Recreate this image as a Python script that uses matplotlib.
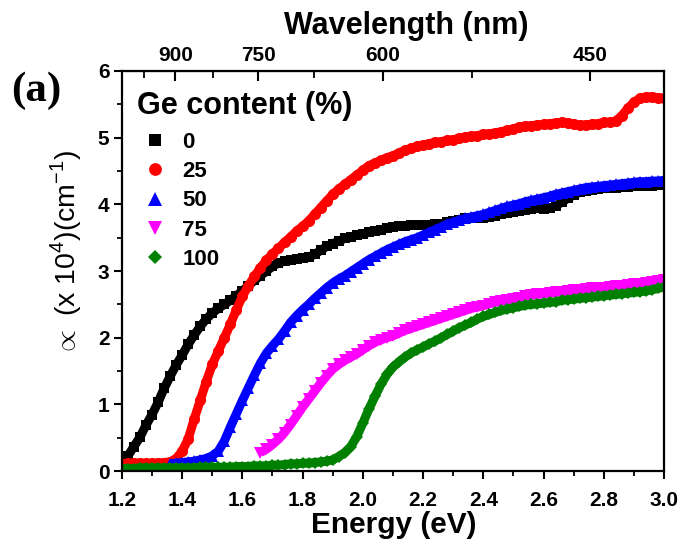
import numpy as np
import matplotlib
matplotlib.use("Agg")
import matplotlib.pyplot as plt
from matplotlib.ticker import MultipleLocator, FixedLocator

plt.rcParams["font.family"] = ["Liberation Sans", "DejaVu Sans"]
plt.rcParams["mathtext.fontset"] = "custom"
plt.rcParams["mathtext.rm"] = "Liberation Sans"
plt.rcParams["mathtext.bf"] = "Liberation Sans:bold"

# photon energy (eV), common sampling of all curves
energy = [
    1.20, 1.22, 1.24, 1.26, 1.28, 1.30, 1.32, 1.34, 1.36, 1.38,
    1.40, 1.42, 1.44, 1.46, 1.48, 1.50, 1.52, 1.54, 1.56, 1.58,
    1.60, 1.62, 1.64, 1.66, 1.68, 1.70, 1.72, 1.74, 1.76, 1.78,
    1.80, 1.82, 1.84, 1.86, 1.88, 1.90, 1.92, 1.94, 1.96, 1.98,
    2.00, 2.02, 2.04, 2.06, 2.08, 2.10, 2.12, 2.14, 2.16, 2.18,
    2.20, 2.22, 2.24, 2.26, 2.28, 2.30, 2.32, 2.34, 2.36, 2.38,
    2.40, 2.42, 2.44, 2.46, 2.48, 2.50, 2.52, 2.54, 2.56, 2.58,
    2.60, 2.62, 2.64, 2.66, 2.68, 2.70, 2.72, 2.74, 2.76, 2.78,
    2.80, 2.82, 2.84, 2.86, 2.88, 2.90, 2.92, 2.94, 2.96, 2.98,
    3.00,
]

nan = np.nan

# absorption coefficient (x 10^4 cm^-1) for each Ge content
alpha_0 = [
    0.12, 0.23, 0.37, 0.51, 0.69, 0.85, 1.03, 1.24, 1.42, 1.59,
    1.74, 1.90, 2.04, 2.17, 2.28, 2.37, 2.44, 2.50, 2.56, 2.63,
    2.70, 2.78, 2.86, 2.93, 3.00, 3.07, 3.12, 3.15, 3.16, 3.18,
    3.19, 3.21, 3.25, 3.31, 3.37, 3.41, 3.45, 3.49, 3.51, 3.54,
    3.56, 3.58, 3.60, 3.62, 3.64, 3.66, 3.67, 3.68, 3.69, 3.69,
    3.69, 3.69, 3.70, 3.71, 3.73, 3.75, 3.77, 3.79, 3.80, 3.80,
    3.80, 3.81, 3.83, 3.85, 3.87, 3.88, 3.90, 3.91, 3.93, 3.94,
    3.93, 3.94, 3.98, 4.03, 4.09, 4.14, 4.18, 4.20, 4.22, 4.23,
    4.24, 4.25, 4.25, 4.26, 4.26, 4.27, 4.27, 4.28, 4.28, 4.29,
    4.30,
]
alpha_25 = [
    0.11, 0.12, 0.12, 0.12, 0.12, 0.12, 0.12, 0.13, 0.14, 0.19,
    0.30, 0.48, 0.78, 1.06, 1.34, 1.60, 1.80, 2.00, 2.20, 2.42,
    2.62, 2.78, 2.92, 3.05, 3.16, 3.26, 3.34, 3.43, 3.51, 3.60,
    3.67, 3.75, 3.85, 3.95, 4.05, 4.15, 4.23, 4.30, 4.37, 4.44,
    4.51, 4.58, 4.62, 4.66, 4.70, 4.73, 4.77, 4.81, 4.84, 4.87,
    4.89, 4.91, 4.93, 4.94, 4.96, 4.97, 4.99, 5.01, 5.02, 5.03,
    5.05, 5.06, 5.07, 5.09, 5.11, 5.13, 5.16, 5.17, 5.18, 5.19,
    5.20, 5.21, 5.22, 5.23, 5.22, 5.20, 5.19, 5.19, 5.20, 5.21,
    5.23, 5.23, 5.25, 5.33, 5.44, 5.53, 5.59, 5.61, 5.61, 5.60,
    5.59,
]
alpha_50 = [
    nan, nan, nan, nan, nan, nan, nan, nan, 0.11, 0.12,
    0.13, 0.14, 0.15, 0.17, 0.19, 0.23, 0.30, 0.45, 0.66, 0.86,
    1.06, 1.25, 1.44, 1.62, 1.77, 1.88, 1.98, 2.10, 2.23, 2.33,
    2.42, 2.50, 2.59, 2.67, 2.75, 2.82, 2.88, 2.93, 2.99, 3.05,
    3.11, 3.17, 3.22, 3.27, 3.32, 3.36, 3.40, 3.44, 3.47, 3.50,
    3.54, 3.58, 3.62, 3.66, 3.70, 3.73, 3.76, 3.79, 3.81, 3.83,
    3.85, 3.88, 3.91, 3.94, 3.97, 3.99, 4.01, 4.04, 4.06, 4.08,
    4.10, 4.12, 4.15, 4.17, 4.19, 4.21, 4.23, 4.25, 4.26, 4.27,
    4.28, 4.29, 4.30, 4.31, 4.32, 4.33, 4.34, 4.34, 4.35, 4.35,
    4.36,
]
alpha_75 = [
    nan, nan, nan, nan, nan, nan, nan, nan, nan, nan,
    nan, nan, nan, nan, nan, nan, nan, nan, nan, nan,
    nan, nan, nan, 0.28, 0.33, 0.40, 0.48, 0.58, 0.70, 0.83,
    0.96, 1.08, 1.20, 1.32, 1.43, 1.53, 1.60, 1.66, 1.71, 1.76,
    1.82, 1.88, 1.93, 1.97, 2.00, 2.03, 2.07, 2.11, 2.14, 2.17,
    2.20, 2.23, 2.26, 2.29, 2.32, 2.35, 2.38, 2.41, 2.44, 2.46,
    2.48, 2.51, 2.53, 2.55, 2.57, 2.58, 2.60, 2.62, 2.64, 2.65,
    2.66, 2.67, 2.68, 2.69, 2.70, 2.71, 2.72, 2.73, 2.74, 2.75,
    2.75, 2.76, 2.77, 2.78, 2.79, 2.80, 2.81, 2.82, 2.83, 2.85,
    2.87,
]
alpha_100 = [
    0.04, 0.04, 0.04, 0.05, 0.05, 0.05, 0.05, 0.05, 0.05, 0.05,
    0.05, 0.05, 0.05, 0.06, 0.06, 0.06, 0.06, 0.06, 0.06, 0.07,
    0.07, 0.07, 0.08, 0.08, 0.08, 0.09, 0.09, 0.10, 0.11, 0.11,
    0.12, 0.12, 0.13, 0.14, 0.15, 0.17, 0.22, 0.28, 0.37, 0.52,
    0.72, 0.93, 1.12, 1.30, 1.45, 1.56, 1.64, 1.71, 1.77, 1.82,
    1.86, 1.91, 1.95, 2.00, 2.05, 2.10, 2.15, 2.19, 2.23, 2.28,
    2.32, 2.35, 2.38, 2.41, 2.43, 2.45, 2.47, 2.49, 2.50, 2.51,
    2.52, 2.53, 2.54, 2.56, 2.57, 2.58, 2.59, 2.60, 2.61, 2.62,
    2.63, 2.64, 2.65, 2.66, 2.67, 2.68, 2.69, 2.70, 2.72, 2.74,
    2.76,
]

labels = ["0", "25", "50", "75", "100"]
series = [alpha_0, alpha_25, alpha_50, alpha_75, alpha_100]
colors = ["black", "#ff0000", "#0000ff", "#ff00ff", "#008000"]
markers = ["s", "o", "^", "v", "D"]
sizes = [7.0, 8.0, 8.5, 8.5, 6.5]

wl_major = [900, 750, 600, 450]
wl_minor = [975, 825, 675, 525]

fig = plt.figure(figsize=(6.81, 5.46), dpi=100)
ax = fig.add_axes([0.179, 0.137, 0.796, 0.733])

for y, lab, c, m, s in zip(series, labels, colors, markers, sizes):
    ax.plot(energy, y, color=c, lw=6.5, solid_capstyle="butt")
    ax.plot(energy, y, ls="none", marker=m, ms=s, color=c,
            markeredgewidth=0, label=lab)

ax.set_xlim(1.2, 3.0)
ax.set_ylim(0, 6)
ax.xaxis.set_major_locator(MultipleLocator(0.2))
ax.xaxis.set_minor_locator(MultipleLocator(0.1))
ax.yaxis.set_major_locator(MultipleLocator(1))
ax.yaxis.set_minor_locator(MultipleLocator(0.5))
ax.xaxis.set_major_formatter(plt.FormatStrFormatter("%.1f"))

for sp in ax.spines.values():
    sp.set_linewidth(1.6)

ax.tick_params(axis="both", which="major", direction="out", length=6,
               width=1.5, labelsize=15)
ax.tick_params(axis="x", which="major", pad=8)
ax.tick_params(axis="y", which="major", pad=3)
ax.tick_params(axis="both", which="minor", direction="out", length=3.5,
               width=1.3)
for t in ax.get_xticklabels() + ax.get_yticklabels():
    t.set_fontweight("bold")

ax.set_xlabel("Energy (eV)", fontsize=21.5, fontweight="bold", va="baseline")
ax.xaxis.set_label_coords(0.502, -0.155)
ax.set_ylabel(r"$\propto$ (x 10$^{\mathregular{4}}$)(cm$^{\mathregular{-1}}$)",
              fontsize=20.5, va="center")
ax.yaxis.set_label_coords(-0.103, 0.543)

# top axis: wavelength = 1240 / E
top = ax.secondary_xaxis("top", functions=(lambda e: 1240.0 / e,
                                           lambda w: 1240.0 / w))
top.xaxis.set_major_locator(FixedLocator(wl_major))
top.xaxis.set_minor_locator(FixedLocator(wl_minor))
top.tick_params(axis="x", which="major", direction="in", length=7,
                width=1.5, labelsize=15, pad=4)
top.tick_params(axis="x", which="minor", direction="in", length=5, width=1.3)
for t in top.get_xticklabels():
    t.set_fontweight("bold")
top.set_xlabel("Wavelength (nm)", fontsize=22, fontweight="bold",
               va="baseline", labelpad=8.6)
top.xaxis.label.set_x(0.524)

leg = ax.legend(loc="upper left", bbox_to_anchor=(0.012, 0.9725),
                frameon=False, title="Ge content (%)", alignment="left",
                prop={"size": 16, "weight": "bold"}, handlelength=1.63,
                handletextpad=0.4, labelspacing=0.37, borderaxespad=0,
                markerscale=1.15)
leg.get_title().set_fontsize(22)
leg.get_title().set_fontweight("bold")
leg._legend_box.sep = 8.0

fig.text(0.017, 0.833, "(a)", fontsize=31, fontweight="bold",
         family="Liberation Serif", va="center")

fig.savefig("out.png", dpi=100)
